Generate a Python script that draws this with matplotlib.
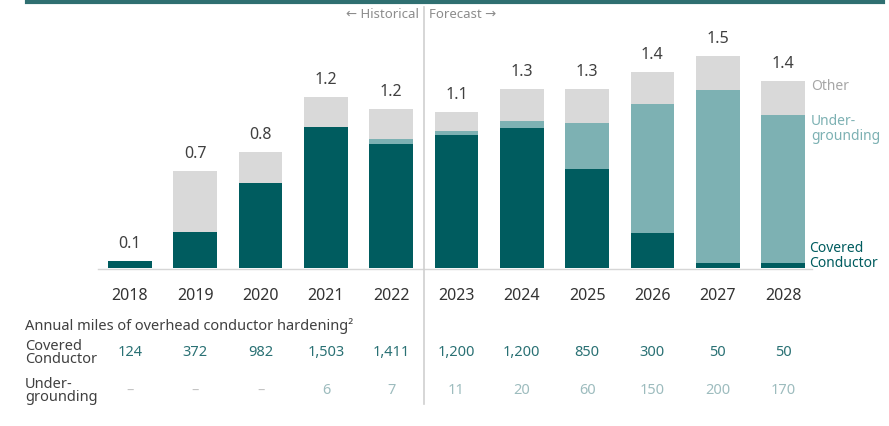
import matplotlib
matplotlib.use("Agg")
import matplotlib.pyplot as plt

plt.rcParams['font.family'] = ['Noto Sans', 'DejaVu Sans']

years = ["2018", "2019", "2020", "2021", "2022", "2023", "2024", "2025", "2026", "2027", "2028"]
covered = [0.05, 0.255, 0.60, 1.00, 0.88, 0.94, 0.99, 0.70, 0.25, 0.035, 0.035]
underground = [0.0, 0.0, 0.0, 0.0, 0.035, 0.03, 0.05, 0.33, 0.91, 1.23, 1.05]
other = [0.0, 0.43, 0.22, 0.21, 0.21, 0.135, 0.23, 0.24, 0.23, 0.24, 0.24]
total_labels = ["0.1", "0.7", "0.8", "1.2", "1.2", "1.1", "1.3", "1.3", "1.4", "1.5", "1.4"]
covered_miles = ["124", "372", "982", "1,503", "1,411", "1,200", "1,200", "850", "300", "50", "50"]
ug_miles = ["\u2013", "\u2013", "\u2013", "6", "7", "11", "20", "60", "150", "200", "170"]

C_DARK = "#005c5f"
C_UG = "#7db1b3"
C_OTHER = "#d9d9d9"

W, H = 889, 427
fig = plt.figure(figsize=(W / 100, H / 100), dpi=100)
ax = fig.add_axes([0, 0, 1, 1])
step = 65.3
bl = 269
ppu = 141
ax.set_xlim(-130 / step, (W - 130) / step)
ax.set_ylim(-(H - bl) / ppu, bl / ppu)
ax.axis("off")

def fx(px):
    return px / W

def fy(py):
    return 1 - py / H

x = list(range(len(years)))
bw = 0.67
ax.bar(x, covered, width=bw, color=C_DARK, zorder=3)
ax.bar(x, underground, width=bw, bottom=covered, color=C_UG, zorder=3)
bot2 = [c + u for c, u in zip(covered, underground)]
ax.bar(x, other, width=bw, bottom=bot2, color=C_OTHER, zorder=3)
totals = [b + o for b, o in zip(bot2, other)]

for xi, t, lab in zip(x, totals, total_labels):
    ax.annotate(lab, (xi, t), xytext=(0, 13), textcoords="offset points",
                ha="center", va="center", fontsize=11.5, color="#404040")

# baseline
fig.add_artist(plt.Line2D([fx(98), fx(812)], [fy(269.5), fy(269.5)], color="#d6d6d6", lw=1))
# top rule
fig.add_artist(plt.Line2D([fx(27), fx(883)], [fy(2.5), fy(2.5)], color="#2f6f71", lw=3))
# divider
fig.add_artist(plt.Line2D([fx(424), fx(424)], [fy(8), fy(405)], color="#cfcfcf", lw=1.2))

fig.text(fx(419), fy(14), "\u2190 Historical", ha="right", va="center", fontsize=9.5, color="#8c8c8c")
fig.text(fx(429), fy(14), "Forecast \u2192", ha="left", va="center", fontsize=9.5, color="#8c8c8c")

# legend labels
fig.text(fx(811), fy(87), "Other", ha="left", va="center", fontsize=10, color="#a6a6a6")
fig.text(fx(811), fy(129), "Under-\ngrounding", ha="left", va="center", fontsize=10,
         color=C_UG, linespacing=1.05)
fig.text(fx(809), fy(256), "Covered\nConductor", ha="left", va="center", fontsize=10,
         color=C_DARK, fontweight="bold", linespacing=1.05)

# year labels
for xi, yr in zip(x, years):
    px = 130 + xi * step
    fig.text(fx(px), fy(296), yr, ha="center", va="center", fontsize=11.5, color="#333333")

# table
fig.text(fx(25), fy(326), "Annual miles of overhead conductor hardening\u00b2", ha="left", va="center",
         fontsize=10.5, color="#404040")
fig.text(fx(25), fy(353), "Covered\nConductor", ha="left", va="center", fontsize=10.5,
         color="#404040", linespacing=0.9)
fig.text(fx(25), fy(391), "Under-\ngrounding", ha="left", va="center", fontsize=10.5,
         color="#404040", linespacing=0.9)
for xi, cm, um in zip(x, covered_miles, ug_miles):
    px = 130 + xi * step
    fig.text(fx(px), fy(353), cm, ha="center", va="center", fontsize=10.5, color="#2a7174")
    col = "#c2c2c2" if um == "\u2013" else "#9dbcbe"
    fig.text(fx(px), fy(391), um, ha="center", va="center", fontsize=10.5, color=col)

fig.savefig("out.png", dpi=100)
